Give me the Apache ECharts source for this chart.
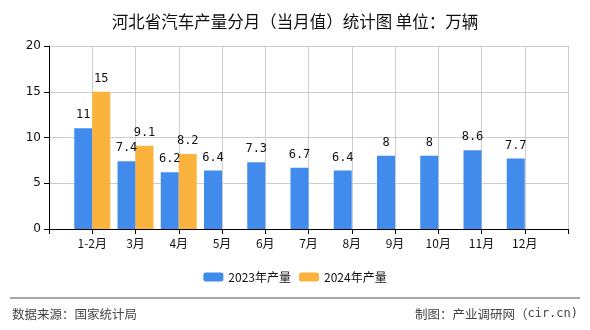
<!DOCTYPE html>
<html><head><meta charset="utf-8">
<script src="https://cdn.jsdelivr.net/npm/echarts@6/dist/echarts.min.js"></script>
<style>html,body{margin:0;padding:0;background:#fff}#c{width:590px;height:330px}</style>
</head><body><div id="c"></div>
<script>
const categories = ['1-2月','3月','4月','5月','6月','7月','8月','9月','10月','11月','12月'];
const values2023 = [11, 7.4, 6.2, 6.4, 7.3, 6.7, 6.4, 8, 8, 8.6, 7.7];
const values2024 = [15, 9.1, 8.2];
const yTicks = [0, 5, 10, 15, 20];

const pad = arr => [null].concat(categories.map((c,i)=> (arr[i]===undefined? null : arr[i]))).concat([null]);
const cats = [''].concat(categories).concat(['']);
const font = '"Noto Sans CJK SC", sans-serif';
const mono = '"DejaVu Sans Mono", monospace';
const chart = echarts.init(document.getElementById('c'));
chart.setOption({
  animation:false,
  title:{text:'河北省汽车产量分月（当月值）统计图 单位：万辆', left:'center', top:8,
    textStyle:{fontSize:16.5, fontWeight:'normal', color:'#111', fontFamily:font}},
  legend:{bottom:42, left:'center', itemWidth:20, itemHeight:9, itemGap:8,
    textStyle:{fontSize:12, color:'#111', fontFamily:font},
    data:['2023年产量','2024年产量']},
  grid:{left:49, right:22, top:46, bottom:101},
  xAxis:{type:'category', data:cats, boundaryGap:false,
    axisLine:{lineStyle:{color:'#000'}}, axisTick:{show:true, lineStyle:{color:'#000'}},
    axisLabel:{color:'#111', fontSize:12, fontFamily:font, interval:0, margin:8},
    splitLine:{show:true, lineStyle:{color:'#ccc'}}},
  yAxis:{type:'value', min:yTicks[0], max:yTicks[yTicks.length-1], interval:5,
    axisLine:{show:true, lineStyle:{color:'#000'}}, axisTick:{show:true, lineStyle:{color:'#000'}},
    axisLabel:{color:'#111', fontSize:12, fontFamily:'"DejaVu Sans", sans-serif'},
    splitLine:{lineStyle:{color:'#ccc'}}},
  series:[
    {name:'2023年产量', type:'bar', data:pad(values2023), barWidth:18, barGap:'0%',
      itemStyle:{color:'#418BEC'},
      label:{show:true, position:'top', distance:7, color:'#111', fontSize:12, fontFamily:mono}},
    {name:'2024年产量', type:'bar', data:pad(values2024), barWidth:18, barGap:'0%',
      itemStyle:{color:'#FBB33E'},
      label:{show:true, position:'top', distance:7, color:'#111', fontSize:12, fontFamily:mono}}
  ],
  graphic:[
    {type:'line', shape:{x1:10, y1:298, x2:580, y2:298}, style:{stroke:'#888', lineWidth:1.5}},
    {type:'text', left:12, top:308, style:{text:'数据来源：国家统计局', fill:'#444', fontSize:12.5, fontFamily:font}},
    {type:'text', right:12, top:308, style:{text:'{a|制图：产业调研网（}{b|cir.cn)}',
      rich:{a:{fill:'#444', fontSize:12.5, fontFamily:font}, b:{fill:'#444', fontSize:12, fontFamily:mono}}}}
  ]
});
</script></body></html>
